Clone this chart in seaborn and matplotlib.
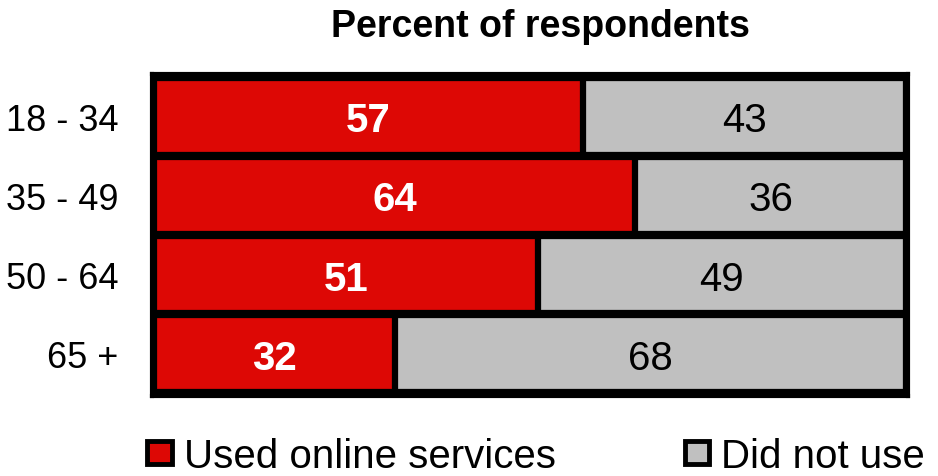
import matplotlib
matplotlib.use("Agg")
import matplotlib.pyplot as plt
import seaborn as sns
import pandas as pd
from matplotlib.patches import Patch

categories = ["18 - 34", "35 - 49", "50 - 64", "65 +"]
used = [57, 64, 51, 32]
not_used = [43, 36, 49, 68]
series_names = ["Used online services", "Did not use"]
title = "Percent of respondents"

RED = "#DD0805"
GRAY = "#C0C0C0"

sns.set_theme(style="white")
plt.rcParams["font.family"] = ["Liberation Sans", "DejaVu Sans"]
plt.rcParams["text.color"] = "black"
plt.rcParams["ytick.color"] = "black"
plt.rcParams["ytick.labelcolor"] = "black"

df = pd.DataFrame({"cat": categories, "used": used, "not_used": not_used})
df["total"] = df["used"] + df["not_used"]

fig = plt.figure(figsize=(9.38, 4.77), dpi=100)
ax = fig.add_axes([152 / 938, 1 - 397 / 477, (908 - 152) / 938, (397 - 75) / 477])
ax.set_facecolor("black")

sns.barplot(data=df, y="cat", x="total", orient="h", color=GRAY, saturation=1,
            width=0.97, edgecolor="black", linewidth=4.5, ax=ax)
sns.barplot(data=df, y="cat", x="used", orient="h", color=RED, saturation=1,
            width=0.97, edgecolor="black", linewidth=4.5, ax=ax)

ax.set_xlim(-0.266, 100.266)
ax.set_ylim(3.535, -0.535)
ax.set_xlabel("")
ax.set_ylabel("")
ax.set_xticks([])
ax.tick_params(axis="y", length=0, pad=24, labelsize=26, labelcolor="black")
for s in ax.spines.values():
    s.set_visible(True)
    s.set_color("black")
    s.set_linewidth(3)

for i, (u, n) in enumerate(zip(used, not_used)):
    ax.text(u / 2, i, f"{u}", ha="center", va="center_baseline", color="white",
            fontsize=29, fontweight="bold")
    ax.text(u + n / 2, i, f"{n}", ha="center", va="center_baseline", color="black",
            fontsize=29)

fig.text(540 / 938, 1 - 27 / 477, title, ha="center", va="center",
         fontsize=27, fontweight="bold", color="black")

handles = [Patch(facecolor=RED, edgecolor="black", linewidth=3.5),
           Patch(facecolor=GRAY, edgecolor="black", linewidth=3.5)]
leg = fig.legend(handles, series_names, loc="center", bbox_to_anchor=(536 / 938, 1 - 457 / 477),
                 ncol=2, frameon=False, fontsize=29, handlelength=0.6, handleheight=0.5,
                 handletextpad=0.3, columnspacing=3.2, borderpad=0.1)
for t in leg.get_texts():
    t.set_color("black")

fig.savefig("out.png", dpi=100)
